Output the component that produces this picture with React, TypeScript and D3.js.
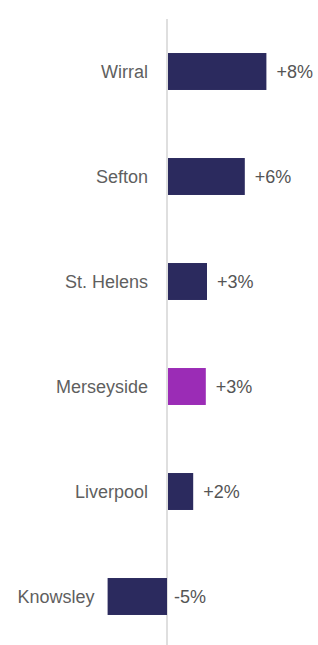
import React, { useEffect, useRef } from "react";
import * as d3 from "d3";

const areas = ["Wirral", "Sefton", "St. Helens", "Merseyside", "Liverpool", "Knowsley"];
const changes = [8.2, 6.4, 3.25, 3.15, 2.1, -4.95];
const changeLabels = ["+8%", "+6%", "+3%", "+3%", "+2%", "-5%"];
const highlight = ["Merseyside"];

function App() {
  const svgRef = useRef<SVGSVGElement>(null);

  useEffect(() => {
    if (!svgRef.current) return;
    const width = 318;
    const height = 645;

    const svg = d3.select(svgRef.current).attr("width", width).attr("height", height);
    svg.selectAll("*").remove();

    const x = d3.scaleLinear().domain([0, 1]).range([167, 179]);
    const y = d3
      .scaleBand<string>()
      .domain(areas)
      .range([19, 649])
      .paddingInner(0.648)
      .paddingOuter(0.324);

    const rows = areas.map((a, i) => ({ area: a, value: changes[i], label: changeLabels[i] }));

    // zero line
    svg
      .append("line")
      .attr("x1", x(0))
      .attr("x2", x(0))
      .attr("y1", 19)
      .attr("y2", height)
      .attr("stroke", "#d4d4d4")
      .attr("stroke-width", 1.5);

    const g = svg
      .selectAll("g.row")
      .data(rows)
      .join("g")
      .attr("class", "row");

    g.append("rect")
      .attr("x", (d) => x(Math.min(0, d.value)) + (d.value > 0 ? 1 : 0))
      .attr("y", (d) => y(d.area)!)
      .attr("width", (d) => Math.abs(x(d.value) - x(0)))
      .attr("height", y.bandwidth())
      .attr("fill", (d) => (highlight.includes(d.area) ? "#9b2cb6" : "#2b2a5e"));

    g.append("text")
      .attr("x", (d) => (d.value >= 0 ? x(0) - 19 : x(d.value) - 13))
      .attr("y", (d) => y(d.area)! + y.bandwidth() / 2)
      .attr("dy", "0.36em")
      .attr("text-anchor", "end")
      .attr("font-family", "'Liberation Sans', Arial, sans-serif")
      .attr("font-size", 18)
      .attr("fill", "#5f5f5f")
      .text((d) => d.area);

    g.append("text")
      .attr("x", (d) => (d.value >= 0 ? x(d.value) + 11 : x(0) + 7))
      .attr("y", (d) => y(d.area)! + y.bandwidth() / 2)
      .attr("dy", "0.36em")
      .attr("font-family", "'Liberation Sans', Arial, sans-serif")
      .attr("font-size", 18)
      .attr("fill", "#555")
      .text((d) => d.label);
  }, []);

  return (
    <div style={{ position: "absolute", left: 0, top: 0, width: 318, height: 645, background: "#fff" }}>
      <svg ref={svgRef} style={{ display: "block" }} />
    </div>
  );
}

export default App;
